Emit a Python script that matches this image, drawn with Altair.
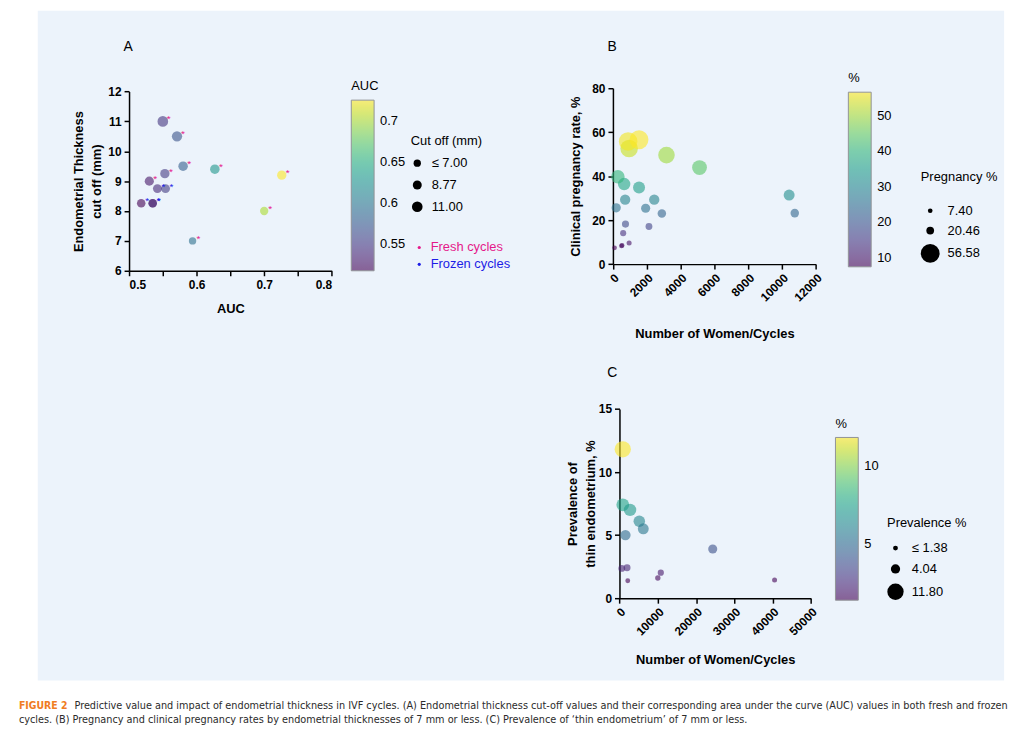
import altair as alt
import pandas as pd

# ---------------- data ----------------
# Panel A: AUC vs endometrial thickness cut-off
auc_a = [0.550, 0.571, 0.580, 0.627, 0.726, 0.553, 0.530, 0.542, 0.554, 0.518, 0.535, 0.535, 0.700, 0.594]
cutoff_a = [11.0, 10.5, 9.5, 9.4, 9.2, 9.25, 9.0, 8.75, 8.75, 8.26, 8.26, 8.26, 8.0, 7.0]
cycle_a = ["Fresh cycles"] * 7 + ["Frozen cycles"] * 5 + ["Fresh cycles"] * 2

# Panel B: clinical pregnancy rate vs number of women/cycles
women_b = [98, 508, 540, 958, 606, 743, 2130, 195, 1935, 2893, 723, 2443, 1544, 664, 293,
           5120, 3166, 958, 900, 1544, 10417, 10749]
preg_b = [7.40, 8.3, 8.5, 9.6, 14.1, 18.2, 17.1, 25.6, 25.4, 23.0, 29.3, 29.3, 34.9, 36.4, 39.7,
          43.9, 49.6, 52.6, 55.8, 56.58, 31.4, 23.2]

# Panel C: prevalence of thin endometrium vs number of women/cycles
women_c = [864, 864, 2763, 5181, 6218, 1554, 24352, 604, 1986, 10794, 10017, 2159, 40500]
prev_c = [11.8, 7.4, 7.0, 6.1, 5.5, 5.0, 3.9, 2.36, 2.41, 2.02, 1.6, 1.38, 1.44]

# tick values / legend values
ticks_a_x = [0.5, 0.55, 0.6, 0.65, 0.7, 0.75, 0.8]
ticks_a_y = [6, 7, 8, 9, 10, 11, 12]
ticks_b_x = [0, 2000, 4000, 6000, 8000, 10000, 12000]
ticks_b_y = [0, 20, 40, 60, 80]
ticks_c_x = [0, 10000, 20000, 30000, 40000, 50000]
ticks_c_y = [0, 5, 10, 15]
cbar_a = [0.55, 0.6, 0.65, 0.7]
cbar_b = [10, 20, 30, 40, 50]
cbar_c = [5, 10]
size_a = [7.0, 8.77, 11.0]
size_b = [7.40, 20.46, 56.58]
size_c = [1.38, 4.04, 11.80]

caption_head = ["FIGURE 2"]
caption_l1 = ["Predictive value and impact of endometrial thickness in IVF cycles. (A) Endometrial thickness cut-off values and their corresponding area under the curve (AUC) values in both fresh and frozen"]
caption_l2 = ["cycles. (B) Pregnancy and clinical pregnancy rates by endometrial thicknesses of 7 mm or less. (C) Prevalence of \u2018thin endometrium\u2019 of 7 mm or less."]

dfA = pd.DataFrame({"AUC": auc_a, "Cutoff": cutoff_a, "Cycle": cycle_a})
dfB = pd.DataFrame({"N": women_b, "Preg": preg_b, "PregPct": preg_b})
dfC = pd.DataFrame({"N": women_c, "Prev": prev_c, "PrevPct": prev_c})

# ---------------- layout / style ----------------
W, H = 974, 675
FONT = "Liberation Sans"
PINK = "#E5198A"
BLUE = "#1C1CE6"
BG = "#ECF3FB"
OP = 0.6

AX = dict(grid=False, domainColor="black", domainWidth=1.5, tickColor="black", tickWidth=1.5,
          tickSize=5, labelFont=FONT, labelFontSize=12, labelFontWeight="bold", labelColor="black",
          titleFont=FONT, titleFontSize=13, titleFontWeight="bold", titleColor="black",
          titleBaseline="middle", format="d")

def cbar_legend(values, x, y, length, title):
    return alt.Legend(orient="none", legendX=x, legendY=y, direction="vertical", title=title,
                      values=values, labelExpr="'' + datum.value",
                      gradientLength=length, gradientThickness=23,
                      gradientStrokeColor="#555", gradientStrokeWidth=1,
                      titleFont=FONT, titleFontSize=13, titleFontWeight="normal", titleColor="black",
                      titlePadding=7, labelFont=FONT, labelFontSize=13, labelColor="black",
                      labelOffset=6)

def size_legend(values, x, y, title, expr, rowpad, tpad):
    return alt.Legend(orient="none", legendX=x, legendY=y, direction="vertical", title=title,
                      values=values, labelExpr=expr,
                      symbolFillColor="black", symbolStrokeColor="black", symbolStrokeWidth=0,
                      symbolOpacity=1, symbolType="circle",
                      titleFont=FONT, titleFontSize=13, titleFontWeight="normal", titleColor="black",
                      titlePadding=tpad, labelFont=FONT, labelFontSize=13, labelColor="black",
                      labelOffset=8, rowPadding=rowpad)

# ---------------- panel A ----------------
AXA = dict(AX)
AXA.pop("format")
xA = alt.X("AUC:Q", scale=alt.Scale(domain=[0.5, 0.8], range=[92, 296.3], nice=False, zero=False),
           axis=alt.Axis(orient="bottom", offset=262 - H, values=ticks_a_x,
                         labelExpr="abs(datum.value*10 - round(datum.value*10)) < 0.01 ? format(datum.value, '.1f') : ''",
                         title="AUC", titleY=38, labelPadding=4, **AXA))
yA = alt.Y("Cutoff:Q", scale=alt.Scale(domain=[6, 12], range=[262, 81.3], nice=False, zero=False),
           axis=alt.Axis(orient="left", offset=-92, values=ticks_a_y,
                         title=["Endometrial Thickness", "cut off (mm)"], titleX=-51,
                         titleLineHeight=18, labelPadding=3, **AX))

pointsA = alt.Chart(dfA).mark_circle(opacity=OP).encode(
    x=xA, y=yA,
    color=alt.Color("AUC:Q", scale=alt.Scale(scheme="viridis", nice=False, zero=False),
                    legend=cbar_legend(cbar_a, 316, 70, 172, "AUC")),
    size=alt.Size("Cutoff:Q", scale=alt.Scale(domain=[7, 11], range=[55, 115], zero=False),
                  legend=size_legend(size_a, 376, 125, "Cut off (mm)",
                                     "datum.value <= 7 ? '\u2264  ' + format(datum.value, '.2f') : format(datum.value, '.2f')", 8, 9)),
)

def star_layer(kind, color, ly):
    return alt.Chart(dfA).transform_filter(alt.datum.Cycle == kind).mark_text(
        text="*", fontSize=10, dx=6, dy=-2, baseline="middle", font=FONT
    ).encode(
        x=xA, y=yA,
        color=alt.Color("Cycle:N", scale=alt.Scale(domain=[kind], range=[color]),
                        legend=alt.Legend(orient="none", legendX=378, legendY=ly, title=None,
                                          symbolType="circle", symbolSize=10, symbolFillColor=color,
                                          symbolStrokeWidth=0, labelColor=color, labelFont=FONT,
                                          labelFontSize=13, labelOffset=5)),
    )

panelA = alt.layer(pointsA, star_layer("Fresh cycles", PINK, 232),
                   star_layer("Frozen cycles", BLUE, 249)).resolve_scale(color="independent")

# ---------------- panel B ----------------
panelB = alt.Chart(dfB).mark_circle(opacity=OP).encode(
    x=alt.X("N:Q", scale=alt.Scale(domain=[0, 12000], range=[579.7, 784.3], nice=False),
            axis=alt.Axis(orient="bottom", offset=255.3 - H, values=ticks_b_x, labelAngle=315,
                          title="Number of Women/Cycles", titleY=70, labelPadding=3, **AX)),
    y=alt.Y("Preg:Q", scale=alt.Scale(domain=[0, 80], range=[255.3, 78], nice=False),
            axis=alt.Axis(orient="left", offset=-579.7, values=ticks_b_y,
                          title="Clinical pregnancy rate, %", titleX=-38, labelPadding=3, **AX)),
    color=alt.Color("Preg:Q", scale=alt.Scale(scheme="viridis", nice=False, zero=False),
                    legend=cbar_legend(cbar_b, 817, 62, 176, "%")),
    size=alt.Size("PregPct:Q", scale=alt.Scale(type="pow", exponent=2, domain=[7.4, 56.58],
                                               range=[22, 360], zero=False),
                  legend=size_legend(size_b, 890, 162, "Pregnancy %", "format(datum.value, '.2f')", 6, 20)),
)

# ---------------- panel C ----------------
panelC = alt.Chart(dfC).mark_circle(opacity=OP).encode(
    x=alt.X("N:Q", scale=alt.Scale(domain=[0, 50000], range=[586.3, 779.3], nice=False),
            axis=alt.Axis(orient="bottom", offset=592 - H, values=ticks_c_x, labelAngle=315,
                          title="Number of Women/Cycles", titleY=62, labelPadding=3, **AX)),
    y=alt.Y("Prev:Q", scale=alt.Scale(domain=[0, 15], range=[592, 401.3], nice=False),
            axis=alt.Axis(orient="left", offset=-586.3, values=ticks_c_y,
                          title=["Prevalence of", "thin endometrium, %"], titleX=-47,
                          titleLineHeight=18, labelPadding=3, **AX)),
    color=alt.Color("Prev:Q", scale=alt.Scale(scheme="viridis", nice=False, zero=False),
                    legend=cbar_legend(cbar_c, 804, 410, 164, "%")),
    size=alt.Size("PrevPct:Q", scale=alt.Scale(domain=[1.38, 11.8], range=[24, 270], zero=False),
                  legend=size_legend(size_c, 856, 510, "Prevalence %",
                                     "datum.value <= 1.38 ? '\u2264  ' + format(datum.value, '.2f') : format(datum.value, '.2f')", 7, 12)),
)

# ---------------- annotations ----------------
def label(text, x, y, size=14, color="black", align="center", weight="normal", font=FONT):
    return alt.Chart(pd.DataFrame({"t": text})).mark_text(
        fontSize=size, align=align, baseline="middle", fontWeight=weight, font=font, color=color
    ).encode(text="t:N", x=alt.value(x), y=alt.value(y))

CAPFONT = "DejaVu Sans Condensed"
annots = [
    label(["A"], 91, 36),
    label(["B"], 579, 36),
    label(["C"], 579, 365),
    label(caption_head, -19, 701, size=10.5, color="#F07C22", align="left", weight="bold", font=CAPFONT),
    label(caption_l1, 37, 701, size=10.9, color="#2b2b2b", align="left", font=CAPFONT),
    label(caption_l2, -19, 715, size=10.9, color="#2b2b2b", align="left", font=CAPFONT),
]

chart = alt.layer(panelA, panelB, panelC, *annots).resolve_scale(
    x="independent", y="independent", color="independent", size="independent"
).properties(
    width=W, height=H,
    padding={"left": 30, "top": 0, "right": 16, "bottom": 48},
    autosize=alt.AutoSizeParams(type="none"),
).configure(background="white", font=FONT).configure_view(fill=BG, stroke=None)

chart.save("out.html", embed_options={"renderer": "svg", "actions": False})
